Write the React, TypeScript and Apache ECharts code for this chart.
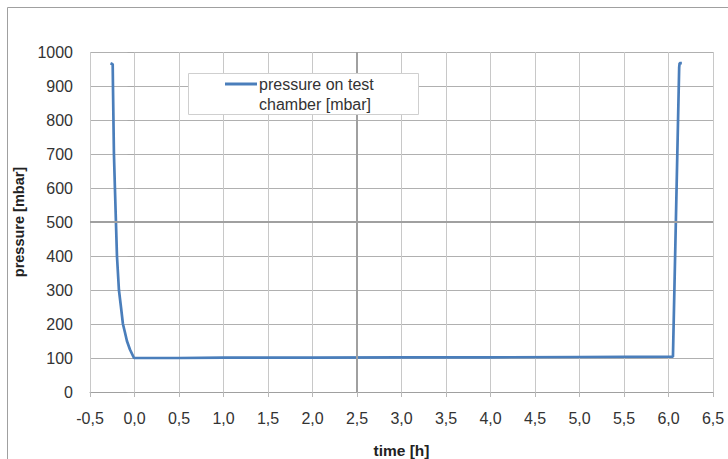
import React, { useEffect, useRef } from "react";
import * as echarts from "echarts";

const timeH = [-0.27, -0.245, -0.242, -0.231, -0.22, -0.197, -0.175, -0.152, -0.13, -0.107, -0.085, -0.051, -0.006, 0.5, 1.0, 2.0, 3.0, 4.0, 5.0, 6.05, 6.12, 6.125, 6.15];
const pressure = [967, 964, 900, 700, 600, 400, 300, 250, 200, 175, 150, 125, 100, 100, 101, 101, 102, 102, 103, 104, 955, 967, 967];
const seriesName = "pressure on test chamber [mbar]";
const legendLines = ["pressure on test", "chamber [mbar]"];
const xTitle = "time [h]";
const yTitle = "pressure [mbar]";

export default function App() {
  const ref = useRef<HTMLDivElement>(null);
  useEffect(() => {
    if (!ref.current) return;
    const chart = echarts.init(ref.current, null, { renderer: "svg" });
    const font = "'Liberation Sans', Arial, sans-serif";
    chart.setOption({
      animation: false,
      backgroundColor: "#ffffff",
      grid: { left: 90, right: 15, top: 52, bottom: 67, outerBoundsMode: "none", containLabel: false },
      xAxis: {
        type: "value",
        min: -0.5,
        max: 6.5,
        interval: 0.5,
        name: xTitle,
        nameLocation: "middle",
        nameGap: 50,
        nameTextStyle: { fontFamily: font, fontSize: 15.5, fontWeight: "bold", color: "#222" },
        axisLine: { show: true, lineStyle: { color: "#a0a0a0", width: 1 } },
        axisTick: { show: true, length: 5, lineStyle: { color: "#b8b8b8" } },
        axisLabel: {
          fontFamily: font,
          fontSize: 16,
          color: "#333",
          margin: 18,
          formatter: (v: number) => v.toFixed(1).replace(".", ","),
        },
        splitLine: { show: true, lineStyle: { color: "#c8c8c8", width: 1 } },
      },
      yAxis: {
        type: "value",
        min: 0,
        max: 1000,
        interval: 100,
        name: yTitle,
        nameLocation: "middle",
        nameGap: 62,
        nameTextStyle: { fontFamily: font, fontSize: 14.5, fontWeight: "bold", color: "#222" },
        axisLine: { show: false },
        axisTick: { show: true, length: 7, lineStyle: { color: "#a8a8a8" } },
        axisLabel: {
          fontFamily: font,
          fontSize: 16,
          color: "#333",
          margin: 17,
          formatter: (v: number) => String(v),
        },
        splitLine: { show: true, lineStyle: { color: "#b0b0b0", width: 1 } },
      },
      series: [
        {
          name: seriesName,
          type: "line",
          data: timeH.map((t, i) => [t, pressure[i]]),
          showSymbol: false,
          lineStyle: { color: "#4a7ebb", width: 2.7 },
          itemStyle: { color: "#4a7ebb" },
          markLine: {
            silent: true,
            symbol: "none",
            label: { show: false },
            lineStyle: { color: "#a0a0a0", width: 2, type: "solid" },
            data: [{ xAxis: 2.5 }, { yAxis: 500 }],
          },
          z: 3,
        },
      ],
      graphic: [
        {
          type: "rect",
          shape: { x: 7.5, y: 7.5, width: 760, height: 480 },
          style: { fill: "none", stroke: "#a0a0a0", lineWidth: 1 },
          silent: true,
        },
        {
          type: "rect",
          z: 100,
          shape: { x: 188.5, y: 73.5, width: 230, height: 41 },
          style: { fill: "#ffffff", stroke: "#cfcfcf", lineWidth: 1 },
        },
        {
          type: "line",
          z: 101,
          shape: { x1: 225, y1: 84, x2: 257, y2: 84 },
          style: { stroke: "#4a7ebb", lineWidth: 3 },
        },
        {
          type: "text",
          z: 101,
          x: 259,
          y: 84,
          style: { text: legendLines[0], font: `16px ${font}`, fill: "#333", verticalAlign: "middle" },
        },
        {
          type: "text",
          z: 101,
          x: 259,
          y: 104,
          style: { text: legendLines[1], font: `16px ${font}`, fill: "#333", verticalAlign: "middle" },
        },
      ],
    });
    return () => chart.dispose();
  }, []);
  return (
    <div
      ref={ref}
      style={{ position: "fixed", left: 0, top: 0, width: 728, height: 459 }}
    />
  );
}
